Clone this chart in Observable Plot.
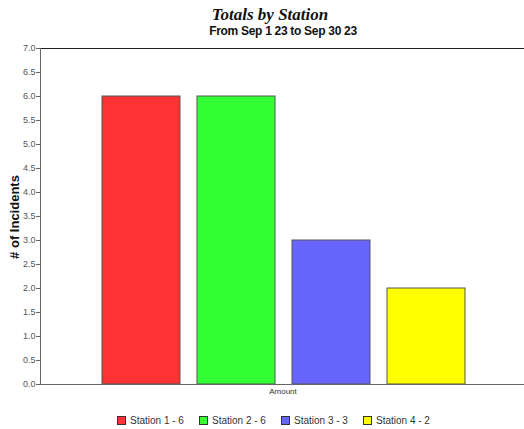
<!DOCTYPE html>
<html><head><meta charset="utf-8">
<script src="https://cdn.jsdelivr.net/npm/d3@7"></script>
<script src="https://cdn.jsdelivr.net/npm/@observablehq/plot@0.6"></script>
<style>
body{margin:0;background:#fff;}
#wrap{position:relative;width:524px;height:429px;overflow:hidden;background:#fff;}
#wrap svg{position:absolute;left:0;top:0;}
.abs{position:absolute;white-space:nowrap;}
#title{left:0;width:540px;top:5px;text-align:center;font:italic bold 17px "Liberation Serif","Times New Roman",serif;color:#111;}
#subtitle{left:0;width:566px;top:24px;text-align:center;font:bold 12px "Liberation Sans",Arial,sans-serif;letter-spacing:-0.3px;color:#111;}
#ylabel{left:14px;top:217px;transform:translate(-50%,-50%) rotate(-90deg);font:bold 13px "Liberation Sans",Arial,sans-serif;color:#111;}
#xlabel{left:283px;top:387px;transform:translateX(-50%);font:8px "Liberation Sans",Arial,sans-serif;color:#333;}
#legend{left:117px;top:415px;display:flex;font:10px "Liberation Sans",Arial,sans-serif;color:#333;}
.item{width:82px;display:flex;align-items:center;}
.sw{width:7px;height:7px;border:1px solid #333;margin-right:4px;}
</style></head>
<body>
<div id="wrap">
  <div id="title" class="abs">Totals by Station</div>
  <div id="subtitle" class="abs">From Sep 1 23 to Sep 30 23</div>
  <div id="ylabel" class="abs"># of Incidents</div>
  <div id="xlabel" class="abs">Amount</div>
  <div id="legend" class="abs"></div>
</div>
<script>
const stations = ["Station 1", "Station 2", "Station 3", "Station 4"];
const counts = [6, 6, 3, 2];
const colors = ["#FF3333", "#33FF33", "#6666FF", "#FFFF00"];
const yTicks = [0,0.5,1,1.5,2,2.5,3,3.5,4,4.5,5,5.5,6,6.5,7];

const data = stations.map((s, i) => ({station: s, count: counts[i], color: colors[i]}));

const chart = Plot.plot({
  width: 524,
  height: 429,
  marginLeft: 40,
  marginRight: 0,
  marginTop: 48,
  marginBottom: 45,
  style: {background: "transparent", fontFamily: "'Liberation Sans', Arial, sans-serif"},
  x: {domain: stations, range: [93.5, 473.5], paddingInner: 0.18, paddingOuter: 0.09, axis: null},
  y: {domain: [0, 7]},
  color: {type: "identity"},
  marks: [
    Plot.ruleY([7], {stroke: "#222"}),
    Plot.barY(data, {x: "station", y: "count", fill: "color", stroke: "#555", strokeWidth: 1}),
    Plot.frame({anchor: "left", stroke: "#666"}),
    Plot.ruleY([0], {stroke: "#666"}),
    Plot.axisY({ticks: yTicks, tickFormat: d => d.toFixed(1), tickSize: 4, tickPadding: 1, fontSize: 9, label: null, stroke: "#666", fill: "#555"})
  ]
});
document.getElementById("wrap").prepend(chart);

const legend = document.getElementById("legend");
stations.forEach((s, i) => {
  const it = document.createElement("div");
  it.className = "item";
  const sw = document.createElement("div");
  sw.className = "sw";
  sw.style.background = colors[i];
  it.appendChild(sw);
  const t = document.createElement("span");
  t.textContent = s + " - " + counts[i];
  it.appendChild(t);
  legend.appendChild(it);
});
</script>
</body></html>
